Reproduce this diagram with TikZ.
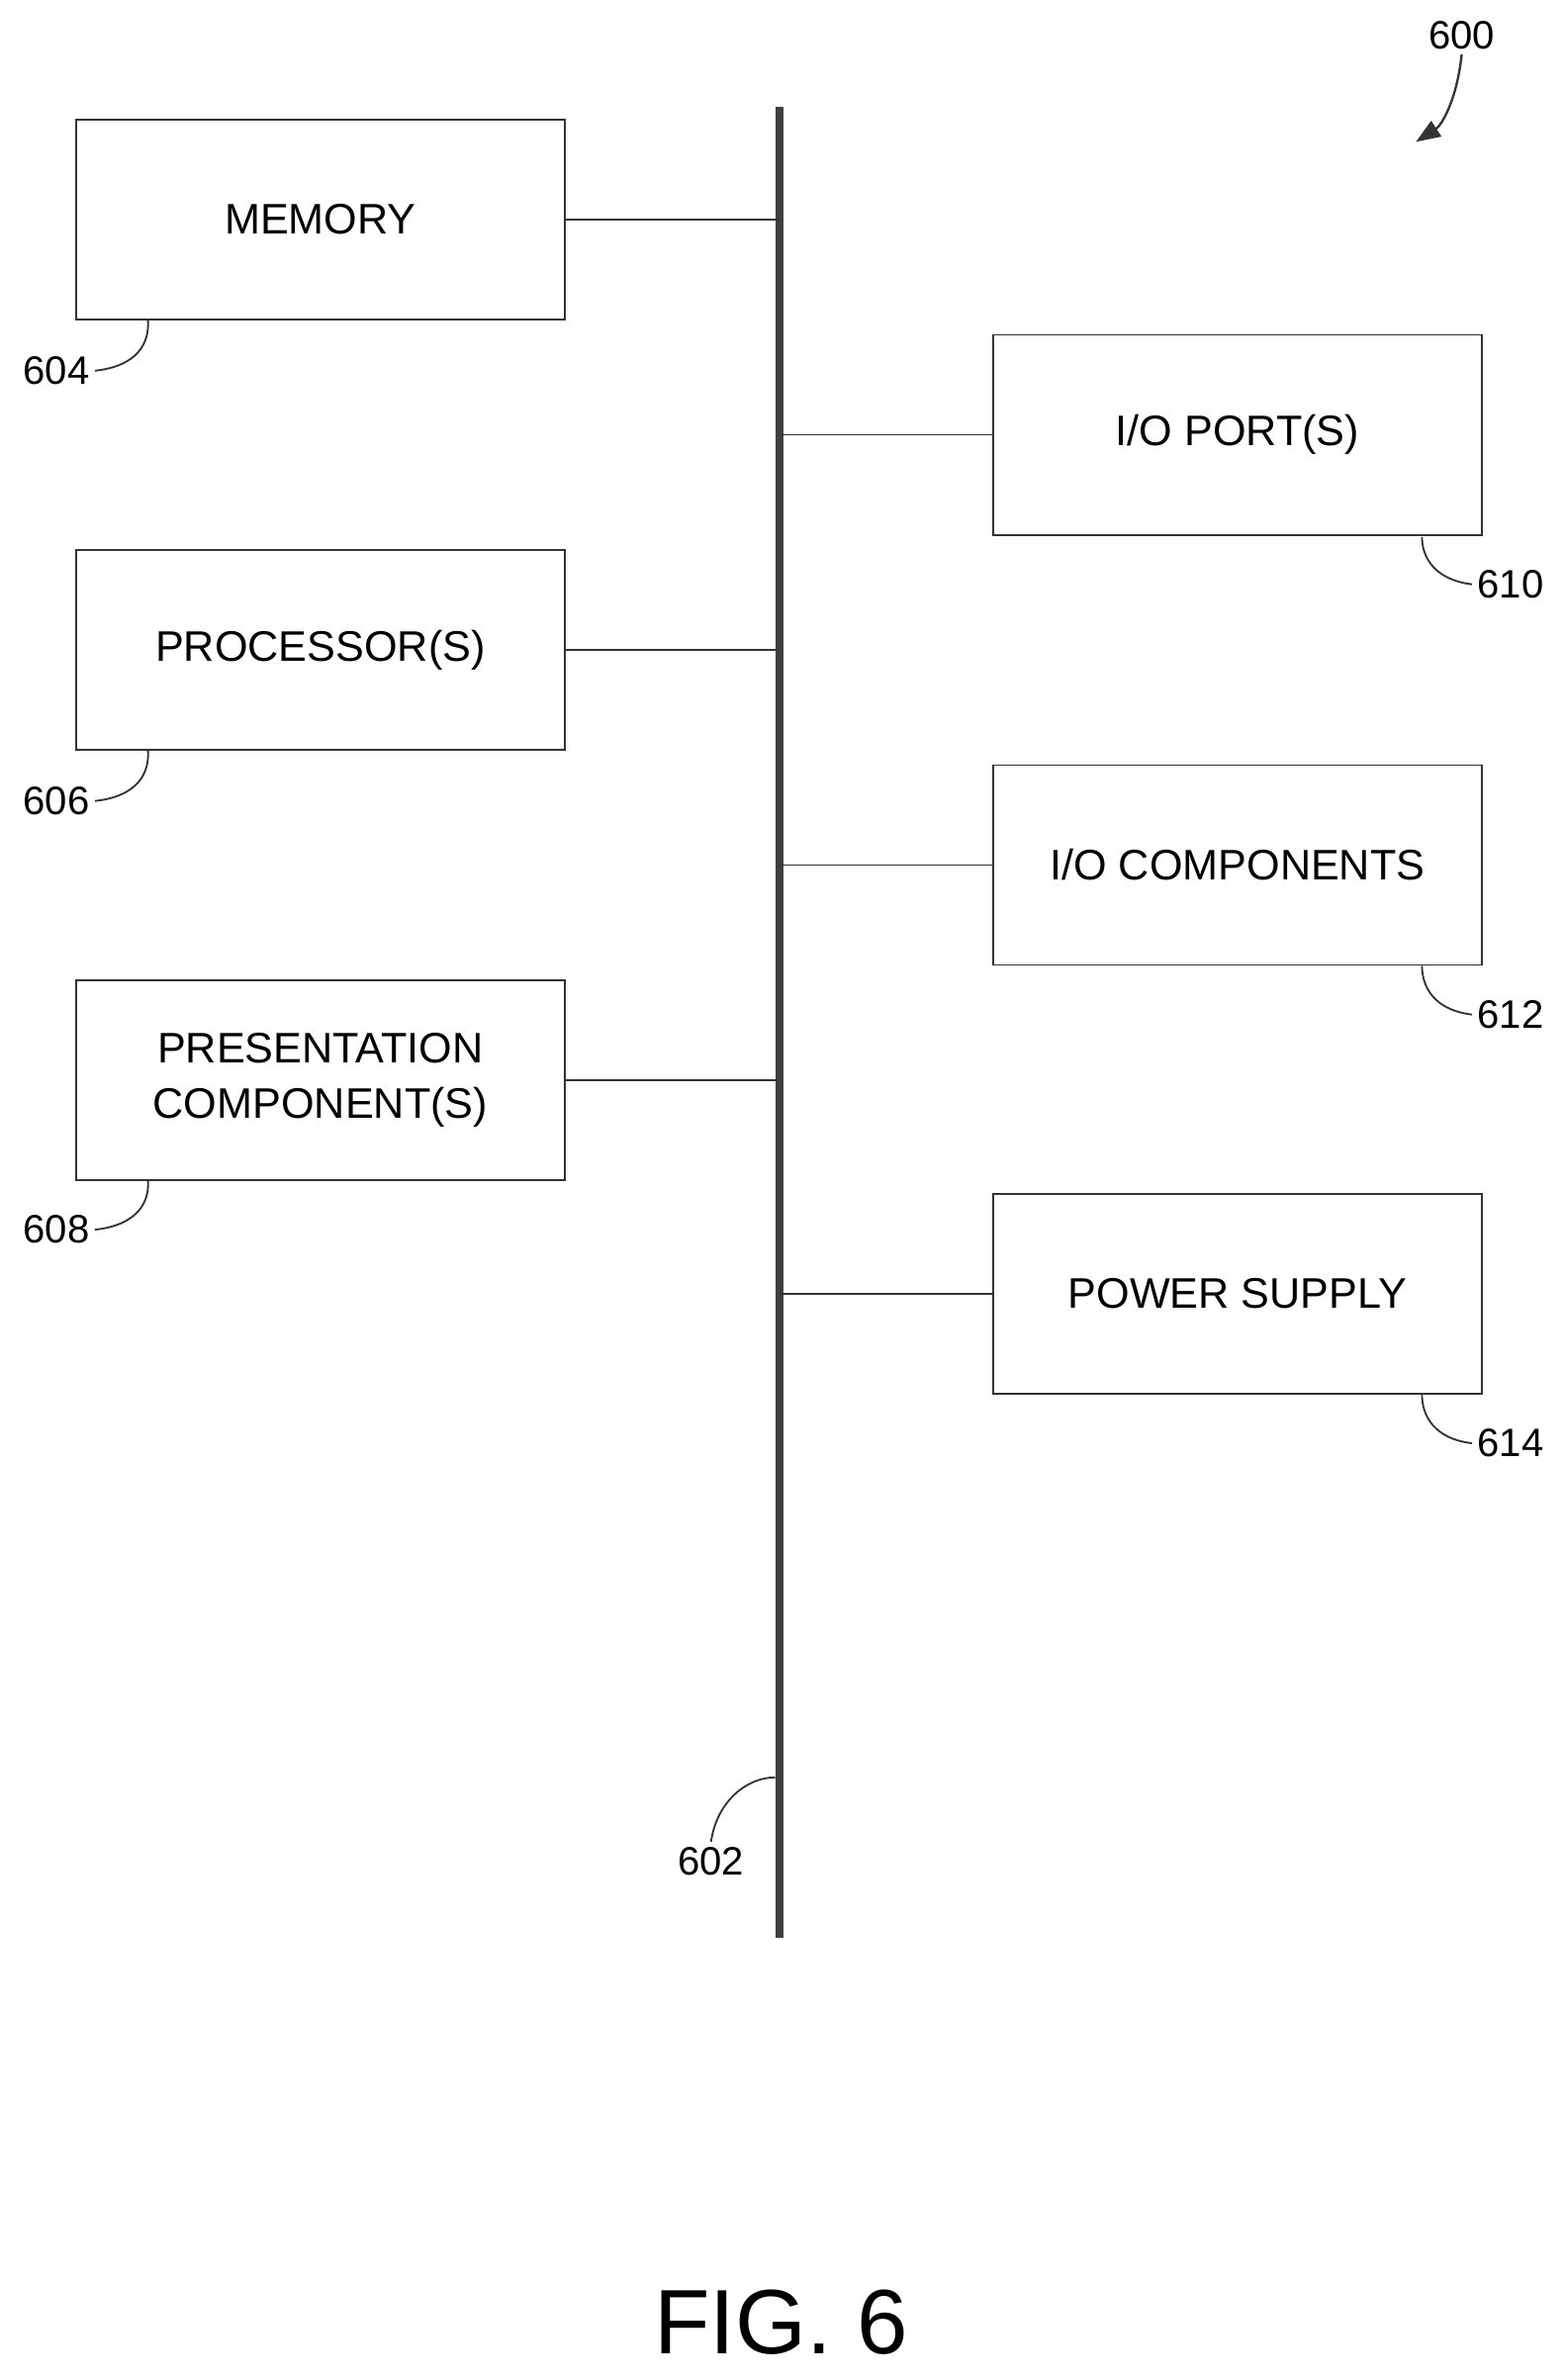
\documentclass[tikz,border=0pt]{standalone}
\usepackage{fontspec}
\setmainfont{Liberation Sans}
\usetikzlibrary{arrows.meta}
\begin{document}
\begin{tikzpicture}[x=1pt,y=-1pt,
  box/.style={draw=black!80,line width=1.2pt,minimum width=320pt,minimum height=131pt,align=center,font=\fontsize{28}{36}\selectfont,inner sep=0pt},
  lab/.style={font=\fontsize{26}{30}\selectfont},
  ln/.style={line width=1.2pt,black!80}]
\useasboundingbox (0,0) rectangle (1024,1560);
\coordinate (bt) at (511,70); \coordinate (bb) at (511,1270);
\draw[line width=5pt,black!75] (bt) -- (bb);
\node[box] (mem) at (210,144) {MEMORY};
\node[box] (proc) at (210,426) {PROCESSOR(S)};
\node[box] (pres) at (210,708) {PRESENTATION\\COMPONENT(S)};
\node[box] (iop) at (811,285) {I/O PORT(S)};
\node[box] (ioc) at (811,567) {I/O COMPONENTS};
\node[box] (pow) at (811,848) {POWER SUPPLY};
\foreach \n in {mem,proc,pres}{\draw[ln] (\n.east) -- (\n.east -| bt);}
\foreach \n in {iop,ioc,pow}{\draw[ln] (\n.west) -- (\n.west -| bt);}
\node[lab] (l604) at (37,243) {604};
\node[lab] (l606) at (37,525) {606};
\node[lab] (l608) at (37,806) {608};
\draw[ln] (l604.east) .. controls (90,240) and (98,225) .. (97,210);
\draw[ln] (l606.east) .. controls (90,522) and (98,507) .. (97,492);
\draw[ln] (l608.east) .. controls (90,803) and (98,788) .. (97,774);
\node[lab] (l610) at (990,383) {610};
\node[lab] (l612) at (990,665) {612};
\node[lab] (l614) at (990,946) {614};
\draw[ln] (l610.west) .. controls (940,380) and (932,365) .. (932,352);
\draw[ln] (l612.west) .. controls (940,662) and (932,647) .. (932,633);
\draw[ln] (l614.west) .. controls (940,943) and (932,928) .. (932,914);
\node[lab] (l602) at (466,1220) {602};
\draw[ln] (l602.north) .. controls (470,1180) and (490,1165) .. (508,1165);
\node[lab] (l600) at (958,23) {600};
\draw[line width=1.5pt,black!80,-{Triangle[length=16pt,width=12pt]}] (l600.south) .. controls (955,65) and (945,82) .. (928,93);
\node[font=\fontsize{60}{64}\selectfont] (fig) at (512,1522) {FIG. 6};
\end{tikzpicture}
\end{document}
